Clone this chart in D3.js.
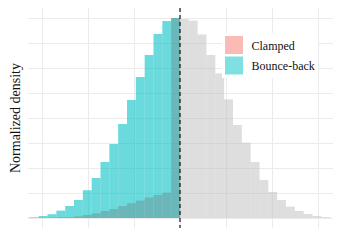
<!DOCTYPE html>
<html>
<head>
<meta charset="utf-8">
<script src="https://d3js.org/d3.v7.min.js"></script>
<style>
  body { margin: 0; background: #fff; }
</style>
</head>
<body>
<div id="chart"></div>
<script>
// histogram bins, threshold at 0, heights normalized to max 1
var threshold = 0;
var binWidth = 0.192;

// right of threshold (grey reference), left -> right
var greyHeights = [0.995, 0.987, 0.918, 0.815, 0.723, 0.593, 0.465, 0.377, 0.28, 0.19,
  0.13, 0.09, 0.057, 0.035, 0.02, 0.01, 0.005];

// left of threshold, far left -> threshold
var clampedHeights = [0.001, 0.001, 0.001, 0.002, 0.003, 0.0035, 0.0085, 0.015, 0.0235, 0.035,
  0.045, 0.06, 0.074, 0.087, 0.103, 0.115, 0.127, 1.0];
var bounceHeights = [0.001, 0.003, 0.01, 0.019, 0.037, 0.06, 0.09, 0.139, 0.20, 0.28,
  0.37, 0.47, 0.59, 0.705, 0.815, 0.92, 0.985, 1.0];

var seriesNames = ["Clamped", "Bounce-back"];
var seriesColors = ["#F8766D", "#00BFC4"];

var xGrid = [-3, -2, -1, 0, 1, 2, 3];
var yGrid = [0, 0.125, 0.25, 0.375, 0.5, 0.625, 0.75, 0.875, 1];

var W = 340, H = 240;
var panel = { left: 28, right: 333, top: 8, bottom: 228 };
var serif = "Liberation Serif";

var svg = d3.select("#chart").append("svg")
  .attr("width", W).attr("height", H);

var x = d3.scaleLinear().domain([-3.304, 3.326]).range([panel.left, panel.right]);
var y = d3.scaleLinear().domain([-0.05, 1.05]).range([panel.bottom, panel.top]);

svg.append("clipPath").attr("id", "clip")
  .append("rect")
  .attr("x", panel.left).attr("y", panel.top)
  .attr("width", panel.right - panel.left).attr("height", panel.bottom - panel.top);

// grid
var grid = svg.append("g").attr("class", "grid");
grid.append("g")
  .attr("transform", "translate(0," + panel.bottom + ")")
  .call(d3.axisBottom(x).tickValues(xGrid).tickSize(-(panel.bottom - panel.top)).tickFormat(""));
grid.append("g")
  .attr("transform", "translate(" + panel.left + ",0)")
  .call(d3.axisLeft(y).tickValues(yGrid).tickSize(-(panel.right - panel.left)).tickFormat(""));
grid.selectAll(".domain").remove();
grid.selectAll(".tick line").attr("stroke", "#ebebeb").attr("stroke-width", 1);

var plot = svg.append("g").attr("clip-path", "url(#clip)");

function leftBins(h) {
  var n = h.length;
  return h.map(function (v, i) {
    return { x0: threshold - (n - i) * binWidth, x1: threshold - (n - i - 1) * binWidth, v: v };
  });
}
function rightBins(h) {
  return h.map(function (v, i) {
    return { x0: threshold + i * binWidth, x1: threshold + (i + 1) * binWidth, v: v };
  });
}

function drawBars(data, fill, opacity) {
  plot.append("g").selectAll("rect")
    .data(data)
    .enter()
    .append("rect")
    .attr("x", function (d) { return x(d.x0); })
    .attr("width", function (d) { return x(d.x1) - x(d.x0); })
    .attr("y", function (d) { return y(d.v); })
    .attr("height", function (d) { return y(0) - y(d.v); })
    .attr("fill", fill)
    .attr("fill-opacity", opacity);
}

drawBars(rightBins(greyHeights), "#bdbdbd", 0.5);
drawBars(leftBins(clampedHeights), seriesColors[0], 0.6);
drawBars(leftBins(bounceHeights), seriesColors[1], 0.58);

// threshold line
svg.append("line")
  .attr("x1", x(threshold)).attr("x2", x(threshold))
  .attr("y1", panel.top).attr("y2", panel.bottom)
  .attr("stroke", "#000").attr("stroke-width", 1.1)
  .attr("stroke-dasharray", "4,3");

// legend
var legend = svg.append("g").attr("transform", "translate(222,33)");
legend.append("rect")
  .attr("width", 96).attr("height", 45).attr("fill", "#fff");
seriesNames.forEach(function (name, i) {
  var g = legend.append("g").attr("transform", "translate(3," + (3 + i * 20.5) + ")");
  g.append("rect").attr("width", 18).attr("height", 18)
    .attr("fill", seriesColors[i]).attr("fill-opacity", 0.5);
  g.append("text").attr("x", 26.5).attr("y", 13.5)
    .attr("font-family", serif).attr("font-size", 12).attr("fill", "#111")
    .text(name);
});

// y title
svg.append("text")
  .attr("transform", "translate(19.5," + ((panel.top + panel.bottom) / 2) + ") rotate(-90)")
  .attr("text-anchor", "middle")
  .attr("font-family", serif).attr("font-size", 14).attr("fill", "#111")
  .text("Normalized density");
</script>
</body>
</html>
